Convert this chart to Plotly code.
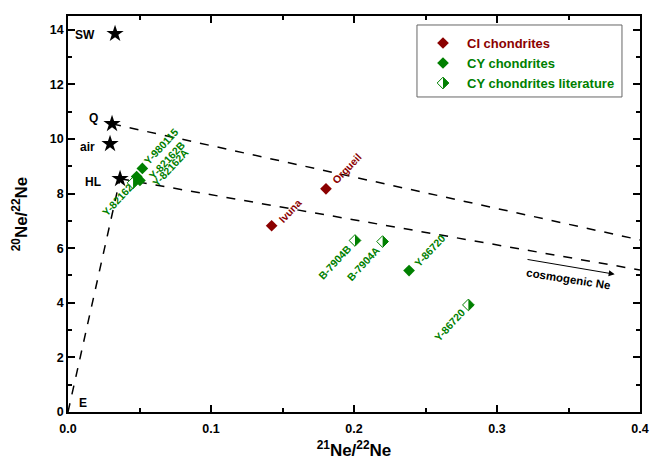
import plotly.graph_objects as go

# ---------------- data ----------------
ci_names = ["Orgueil", "Ivuna"]
ci_x = [0.1804, 0.1424]
ci_y = [8.17, 6.82]

cy_names = ["Y-980115", "Y-82162B", "Y-82162A", "Y-86720"]
cy_x = [0.0520, 0.0480, 0.0503, 0.2385]
cy_y = [8.92, 8.62, 8.48, 5.18]

lit_names = ["Y-82162", "B-7904B", "B-7904A", "Y-86720"]
lit_x = [0.0455, 0.2007, 0.2200, 0.2800]
lit_y = [8.39, 6.28, 6.24, 3.92]

comp_names = ["SW", "Q", "air", "HL", "E"]
comp_x = [0.0329, 0.0308, 0.0294, 0.0364, 0.0]
comp_y = [13.85, 10.55, 9.82, 8.54, 0.0]

# dashed mixing lines (x pairs, y pairs)
line_q_x = [0.0308, 0.40]
line_q_y = [10.55, 6.30]
line_hl_x = [0.0364, 0.40]
line_hl_y = [8.54, 5.20]
line_e_x = [0.0, 0.0364]
line_e_y = [0.0, 8.54]

# cosmogenic arrow (start, end)
cosmo_x = [0.3203, 0.3823]
cosmo_y = [5.595, 5.045]

x_ticks = [0.0, 0.1, 0.2, 0.3, 0.4]
y_ticks = [0, 2, 4, 6, 8, 10, 12, 14]

legend_labels = ["CI chondrites", "CY chondrites", "CY chondrites literature"]

RED = "#8b0000"
GREEN = "#008000"
FONT = "Liberation Sans, Arial, sans-serif"
legend_colors = [RED, GREEN, GREEN]
legend_kinds = ["full", "full", "half"]

fig = go.Figure()

for lx, ly in [(line_q_x, line_q_y), (line_hl_x, line_hl_y), (line_e_x, line_e_y)]:
    fig.add_trace(go.Scatter(x=lx, y=ly, mode="lines", showlegend=False,
                             line=dict(color="black", width=1.5, dash="dash"),
                             hoverinfo="skip"))

fig.add_trace(go.Scatter(x=comp_x[:4], y=comp_y[:4], mode="markers", showlegend=False,
                         marker=dict(symbol="star", size=13, color="black")))

fig.add_trace(go.Scatter(x=ci_x, y=ci_y, mode="markers", name=legend_labels[0], showlegend=False,
                         marker=dict(symbol="diamond", size=9, color=RED)))
fig.add_trace(go.Scatter(x=cy_x, y=cy_y, mode="markers", name=legend_labels[1], showlegend=False,
                         marker=dict(symbol="diamond", size=9, color=GREEN)))
fig.add_trace(go.Scatter(x=lit_x, y=lit_y, mode="markers", name=legend_labels[2], showlegend=False,
                         marker=dict(symbol="diamond-open", size=9, color=GREEN,
                                     line=dict(width=1, color=GREEN))))

# right-half fill of the literature diamonds
half = "M0,5.85 L5.85,0 L0,-5.85 Z"
full = "M0,5.85 L5.85,0 L0,-5.85 L-5.85,0 Z"
shapes = []
for x, y in zip(lit_x, lit_y):
    shapes.append(dict(type="path", xref="x", yref="y", xsizemode="pixel", ysizemode="pixel",
                       xanchor=x, yanchor=y, path=half, fillcolor=GREEN,
                       line=dict(width=0), layer="above"))

annotations = []

# ---- legend box (drawn by hand so the half-filled symbol can be shown) ----
shapes.append(dict(type="rect", xref="paper", yref="paper", x0=0.6101, x1=0.9685,
                   y0=0.7955, y1=0.9773, line=dict(color="#666", width=1),
                   fillcolor="white", layer="above"))
leg_rows = [0.9318, 0.8813, 0.8308]
for lab, col, kind, yy in zip(legend_labels, legend_colors, legend_kinds, leg_rows):
    if kind == "full":
        shapes.append(dict(type="path", xref="paper", yref="paper", xsizemode="pixel",
                           ysizemode="pixel", xanchor=0.6556, yanchor=yy, path=full,
                           fillcolor=col, line=dict(width=0), layer="above"))
    else:
        shapes.append(dict(type="path", xref="paper", yref="paper", xsizemode="pixel",
                           ysizemode="pixel", xanchor=0.6556, yanchor=yy, path=full,
                           fillcolor="white", line=dict(width=1, color=col), layer="above"))
        shapes.append(dict(type="path", xref="paper", yref="paper", xsizemode="pixel",
                           ysizemode="pixel", xanchor=0.6556, yanchor=yy, path=half,
                           fillcolor=col, line=dict(width=0), layer="above"))
    annotations.append(dict(xref="paper", yref="paper", x=0.6941, y=yy, text=lab,
                            xanchor="left", yanchor="middle", showarrow=False,
                            font=dict(size=13, color=col, family=FONT, weight="bold")))

# component labels
comp_shift = [(-30, -1), (-19, 6), (-23, -3), (-27, -3), (15, 9)]
for n, x, y, (dx, dy) in zip(comp_names, comp_x, comp_y, comp_shift):
    annotations.append(dict(x=x, y=y, text=n, showarrow=False, xshift=dx, yshift=dy,
                            font=dict(size=12, color="black", family=FONT, weight="bold")))

# sample labels
LS = 10.5
ci_shift = [(21, 21), (18, 15)]
for n, x, y, (dx, dy) in zip(ci_names, ci_x, ci_y, ci_shift):
    annotations.append(dict(x=x, y=y, text=n, showarrow=False, xshift=dx, yshift=dy, textangle=-47,
                            font=dict(size=LS, color=RED, family=FONT, weight="bold")))
cy_shift = [(19, 22), (30, 17), (31, 13), (20, 20)]
for n, x, y, (dx, dy) in zip(cy_names, cy_x, cy_y, cy_shift):
    annotations.append(dict(x=x, y=y, text=n, showarrow=False, xshift=dx, yshift=dy, textangle=-47,
                            font=dict(size=LS, color=GREEN, family=FONT, weight="bold")))
lit_shift = [(-16, -17), (-20, -22), (-20, -22), (-19, -20)]
for n, x, y, (dx, dy) in zip(lit_names, lit_x, lit_y, lit_shift):
    annotations.append(dict(x=x, y=y, text=n, showarrow=False, xshift=dx, yshift=dy, textangle=-47,
                            font=dict(size=LS, color=GREEN, family=FONT, weight="bold")))

# cosmogenic arrow
annotations.append(dict(x=cosmo_x[1], y=cosmo_y[1], ax=cosmo_x[0], ay=cosmo_y[0],
                        xref="x", yref="y", axref="x", ayref="y", text="",
                        showarrow=True, arrowhead=2, arrowsize=1.2, arrowwidth=1, arrowcolor="black"))
annotations.append(dict(x=(cosmo_x[0] + cosmo_x[1]) / 2, y=(cosmo_y[0] + cosmo_y[1]) / 2,
                        text="cosmogenic Ne", showarrow=False, textangle=9, xshift=-2, yshift=-12,
                        font=dict(size=11.5, color="black", family=FONT, weight="bold")))

axis_common = dict(ticks="inside", ticklen=7, tickwidth=1.5, tickcolor="black",
                   showline=True, linewidth=1.5, linecolor="black", mirror="allticks",
                   showgrid=False, zeroline=False, automargin=False,
                   tickfont=dict(size=12.5, color="black", family=FONT, weight="bold"))

fig.update_layout(
    width=651, height=463,
    margin=dict(l=68, r=11, t=16, b=51),
    paper_bgcolor="white", plot_bgcolor="white",
    font=dict(family=FONT, color="black"),
    xaxis=dict(range=[0, 0.4], tickvals=x_ticks, tickformat=".1f", ticklabelstandoff=4,
               minor=dict(ticks="inside", ticklen=4, dtick=0.05, tickcolor="black", tickwidth=1.5),
               title=dict(text="<sup>21</sup>Ne/<sup>22</sup>Ne", standoff=9,
                          font=dict(size=17, family=FONT, weight="bold", color="black")),
               **axis_common),
    yaxis=dict(range=[0, 14.5], tickvals=y_ticks,
               minor=dict(ticks="inside", ticklen=4, dtick=1, tickcolor="black", tickwidth=1.5),
               title=dict(text="<sup>20</sup>Ne/<sup>22</sup>Ne", standoff=18,
                          font=dict(size=17, family=FONT, weight="bold", color="black")),
               **axis_common),
    shapes=shapes,
    annotations=annotations,
    showlegend=False,
)

fig.write_html("out.html", config={"displayModeBar": False},
               post_script="document.body.style.margin='0';document.body.style.padding='0';")
